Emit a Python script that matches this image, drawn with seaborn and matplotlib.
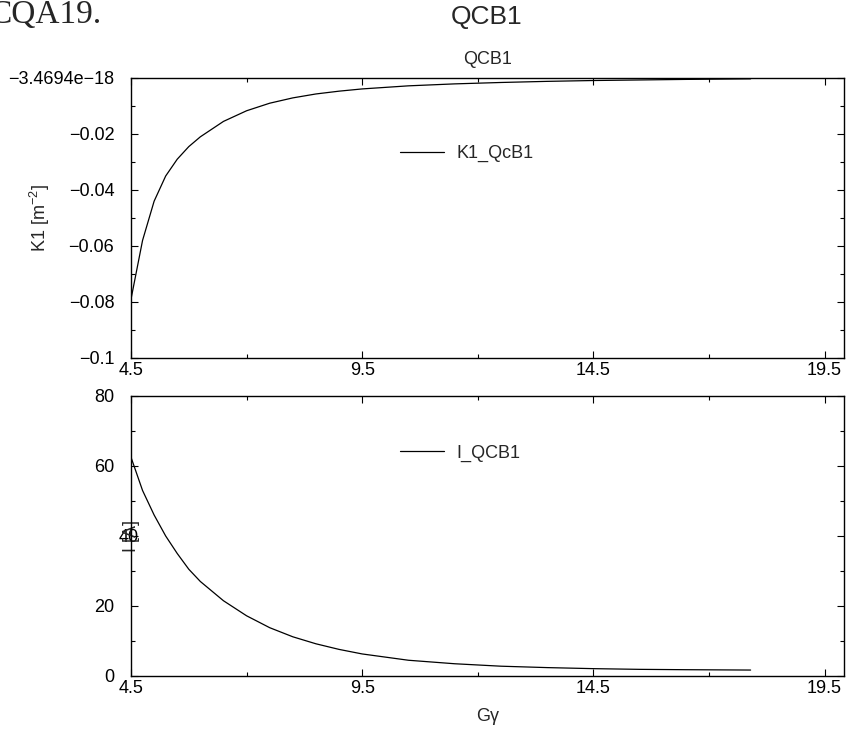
import numpy as np
import pandas as pd
import matplotlib
matplotlib.use("Agg")
import matplotlib.pyplot as plt
import matplotlib.transforms as mtransforms
import seaborn as sns

# ---- data ----
g_gamma = [4.5, 4.75, 5.0, 5.25, 5.5, 5.75, 6.0, 6.5, 7.0, 7.5, 8.0, 8.5, 9.0,
           9.5, 10.5, 11.5, 12.5, 13.5, 14.5, 15.5, 16.5, 17.9]
k1_qcb1 = [-0.079, -0.058, -0.044, -0.035, -0.029, -0.0245, -0.021, -0.0155,
           -0.0117, -0.009, -0.0071, -0.0057, -0.0047, -0.0039, -0.0028,
           -0.0021, -0.0016, -0.0012, -0.0009, -0.0007, -0.0005, -0.0003]
i_qcb1 = [62.5, 53, 46, 40, 35, 30.5, 27, 21.5, 17.2, 13.8, 11.2, 9.2, 7.6,
          6.3, 4.5, 3.5, 2.8, 2.4, 2.1, 1.9, 1.8, 1.7]

x_ticks = [4.5, 9.5, 14.5, 19.5]
x_tick_labels = ["4.5", "9.5", "14.5", "19.5"]
k1_ticks = [-0.1, -0.08, -0.06, -0.04, -0.02, -3.4694e-18]
k1_tick_labels = ["\u22120.1", "\u22120.08", "\u22120.06", "\u22120.04", "\u22120.02",
                  "\u22123.4694e\u221218"]
i_ticks = [0, 20, 40, 60, 80]
i_tick_labels = ["0", "20", "40", "60", "80"]

df = pd.DataFrame({"G": g_gamma, "K1": k1_qcb1, "I": i_qcb1})

sns.set_style("ticks")
plt.rcParams["font.family"] = ["Liberation Sans", "DejaVu Sans"]
plt.rcParams["mathtext.fontset"] = "custom"
plt.rcParams["mathtext.rm"] = "Liberation Sans"
plt.rcParams["mathtext.it"] = "Liberation Sans:italic"

fig = plt.figure(figsize=(8.48, 7.31), dpi=100)
W, H = 848, 731
def rect(l, t, r, b):
    return [l / W, 1 - b / H, (r - l) / W, (b - t) / H]

ax1 = fig.add_axes(rect(131, 78, 844, 358))
ax2 = fig.add_axes(rect(131, 396, 844, 676))

fs = 13
for ax in (ax1, ax2):
    ax.set_xlim(4.5, 19.92)
    ax.set_xticks(x_ticks)
    ax.set_xticklabels(x_tick_labels, fontsize=fs)
    ax.set_xticks([7, 12, 17], minor=True)
    ax.tick_params(which="both", direction="in", top=True, right=True,
                   colors="black", width=0.8)
    ax.tick_params(which="major", length=5)
    ax.tick_params(axis="y", which="major", pad=12)
    ax.tick_params(axis="x", which="major", pad=3)
    ax.tick_params(which="minor", length=3)
    for s in ax.spines.values():
        s.set_linewidth(1.0)
        s.set_color("black")

sns.lineplot(data=df, x="G", y="K1", ax=ax1, color="black", linewidth=0.9,
             label="K1_QcB1")
ax1.set_ylim(-0.1, 0)
ax1.set_yticks(k1_ticks)
ax1.set_yticklabels(k1_tick_labels, fontsize=fs)
ax1.set_yticks([-0.09, -0.07, -0.05, -0.03, -0.01], minor=True)
ax1.set_xlabel("")
ax1.set_ylabel("K1 [m$^{-2}$]", fontsize=fs)
ax1.yaxis.set_label_coords(-0.111, 0.5)
ax1.set_title("QCB1", fontsize=fs, pad=10)
ax1.legend(frameon=False, loc="center left", bbox_to_anchor=(0.355, 0.73),
           fontsize=fs, handlelength=2.4, handletextpad=0.7)

sns.lineplot(data=df, x="G", y="I", ax=ax2, color="black", linewidth=0.9,
             label="I_QCB1")
ax2.set_ylim(0, 80)
ax2.set_yticks(i_ticks)
ax2.set_yticklabels(i_tick_labels, fontsize=fs)
ax2.set_yticks([10, 30, 50, 70], minor=True)
ax2.set_xlabel("G\u03b3", fontsize=fs, labelpad=8)
ax2.set_ylabel("I [A]", fontsize=fs)
ax2.yaxis.set_label_coords(0.0126, 0.5)
ax2.legend(frameon=False, loc="center left", bbox_to_anchor=(0.355, 0.796),
           fontsize=fs, handlelength=2.4, handletextpad=0.7)

# the "40" tick label sits against the axis label in the reference
lab40 = ax2.get_yticklabels()[2]
lab40.set_transform(lab40.get_transform() +
                    mtransforms.ScaledTranslation(24 / 100, 0, fig.dpi_scale_trans))

fig.text(487 / W, 1 - 17 / H, "QCB1", ha="center", va="center", fontsize=19)
fig.text(-10 / W, 1 - 15 / H, "CQA19.", ha="left", va="center", fontsize=24,
         family=["Liberation Serif", "DejaVu Serif"])

fig.savefig("out.png", dpi=100)
